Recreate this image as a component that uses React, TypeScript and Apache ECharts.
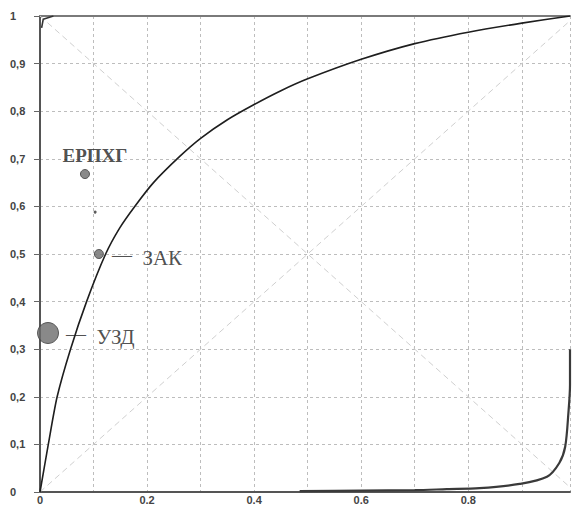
import React, { useEffect, useRef } from "react";
import * as echarts from "echarts";

// Main ROC curve (FPR, TPR)
const rocMain: [number, number][] = [
  [0, 0], [0.0155, 0.1], [0.032, 0.2], [0.057, 0.3], [0.087, 0.4], [0.1226, 0.5],
  [0.149, 0.555], [0.177, 0.6], [0.212, 0.65], [0.261, 0.705], [0.3, 0.743],
  [0.35, 0.782], [0.4, 0.814], [0.45, 0.843], [0.5, 0.868], [0.6, 0.909],
  [0.7, 0.942], [0.8, 0.966], [0.9, 0.985], [0.99, 1],
];
// Lower-right curve
const rocLow: [number, number][] = [
  [0.485, 0.002], [0.6, 0.003], [0.7, 0.004], [0.76, 0.006], [0.821, 0.008],
  [0.896, 0.017], [0.947, 0.032], [0.97, 0.061], [0.981, 0.095], [0.987, 0.166],
  [0.99, 0.225], [0.99, 0.3],
];
// Short piece at the top-left corner
const rocTop: [number, number][] = [
  [0.003, 0.975], [0.006, 0.993], [0.025, 1],
];
const diagUp: [number, number][] = [[0, 0], [0.99, 0.99]];
const diagDown: [number, number][] = [[0, 1], [0.99, 0.01]];

const pointNames = ["ЕРПХГ", "ЗАК", "УЗД"];
const pointX = [0.084, 0.11, 0.015];
const pointY = [0.668, 0.5, 0.334];
const pointSizes = [9, 9, 21];
const extraDot: [number, number][] = [[0.103, 0.588]];

const xMin = 0;
const xMax = 0.99;
const yMin = 0;
const yMax = 1;
const tickStep = 0.1;

export default function App() {
  const ref = useRef<HTMLDivElement>(null);
  useEffect(() => {
    document.body.style.margin = "0";
    if (!ref.current) return;
    const chart = echarts.init(ref.current, undefined, { renderer: "svg" });
    const gridLine = { show: true, lineStyle: { color: "#bdbdbd", type: [3, 3] as any, width: 1 } };
    const diagStyle = { color: "#cfcfcf", width: 1, type: [6, 4] as any };
    const serif = "'Liberation Serif', 'DejaVu Serif', serif";
    const labelRich = {
      d: { fontFamily: serif, fontSize: 20, color: "#222", padding: [0, 0, 7, 0] },
      t: { fontFamily: serif, fontSize: 21, color: "#222" },
    };
    const dataPts = pointNames.map((n, i) => {
      const base = { name: n, value: [pointX[i], pointY[i]], symbolSize: pointSizes[i] };
      if (i === 0) {
        return {
          ...base,
          label: { position: "top", offset: [10, 1], fontWeight: "bold", fontSize: 19, formatter: "{b}" },
        };
      }
      return {
        ...base,
        label: {
          position: "right",
          distance: i === 1 ? 8 : 7,
          offset: [0, 4],
          formatter: "{d|\u2014}{t|\u2002{b}}",
          rich: labelRich,
        },
      };
    });
    chart.setOption({
      animation: false,
      backgroundColor: "#ffffff",
      grid: { left: 40, right: 2, top: 16, bottom: 13, containLabel: false, outerBoundsMode: "none" } as any,
      xAxis: [
        {
          type: "value",
          min: xMin,
          max: xMax,
          interval: tickStep,
          axisLine: { show: true, onZero: false, lineStyle: { color: "#555", width: 2 } },
          axisTick: { show: false },
          splitLine: gridLine,
          axisLabel: {
            margin: 2,
            showMaxLabel: false,
            fontFamily: "'Liberation Sans', Arial, sans-serif",
            fontSize: 11,
            fontWeight: "bold",
            color: "#444",
            formatter: (v: number) => {
              const k = Math.round(v * 10);
              if (k % 2 !== 0 || k > 8) return "";
              return k === 0 ? "0" : String(k / 10);
            },
          },
        },
        {
          type: "value",
          position: "top",
          min: xMin,
          max: xMax,
          axisLine: { show: true, onZero: false, lineStyle: { color: "#7a7a7a", width: 2 } },
          axisTick: { show: false },
          axisLabel: { show: false },
          splitLine: { show: false },
        },
      ],
      yAxis: {
        type: "value",
        min: yMin,
        max: yMax,
        interval: tickStep,
        axisLine: { show: true, onZero: false, lineStyle: { color: "#555", width: 2 } },
        axisTick: { show: true, length: 6, lineStyle: { color: "#666" } },
        splitLine: gridLine,
        axisLabel: {
          align: "left",
          margin: 30,
          fontFamily: "'Liberation Sans', Arial, sans-serif",
          fontSize: 11,
          fontWeight: "bold",
          color: "#444",
          formatter: (v: number) => {
            const k = Math.round(v * 10);
            if (k === 0) return "0";
            if (k === 10) return "1";
            return "0," + k;
          },
        },
      },
      series: [
        { type: "line", data: diagUp, showSymbol: false, lineStyle: diagStyle, silent: true },
        { type: "line", data: diagDown, showSymbol: false, lineStyle: diagStyle, silent: true },
        { type: "line", data: rocMain, showSymbol: false, smooth: 0.25, lineStyle: { color: "#1e1e1e", width: 1.6 } },
        { type: "line", data: rocLow, showSymbol: false, smooth: 0.3, lineStyle: { color: "#3a3a3a", width: 2.2 } },
        { type: "line", data: rocTop, showSymbol: false, lineStyle: { color: "#333", width: 1.6 } },
        { type: "scatter", data: extraDot, symbolSize: 3, itemStyle: { color: "#333" } },
        {
          type: "scatter",
          data: dataPts,
          itemStyle: { color: "#6b6b6b", borderColor: "#3c3c3c", borderWidth: 1 },
          label: { show: true, fontFamily: serif, fontSize: 20, color: "#222" },
          emphasis: { disabled: true },
        },
      ],
    });
    return () => chart.dispose();
  }, []);
  return <div ref={ref} style={{ width: 572, height: 505 }} />;
}
